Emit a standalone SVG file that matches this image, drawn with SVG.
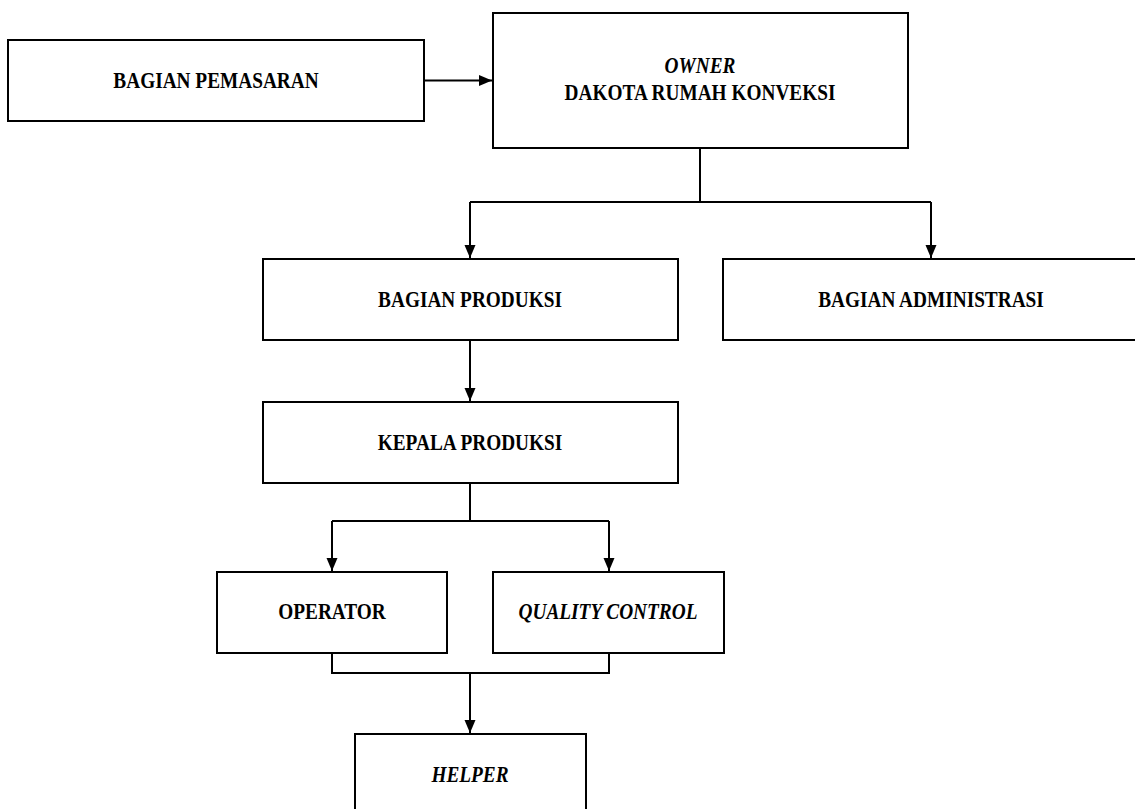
<svg xmlns="http://www.w3.org/2000/svg" width="1135" height="809" viewBox="0 0 1135 809">
  <style>
    .box { fill: #ffffff; stroke: #000000; stroke-width: 2; }
    .lbl { font-family: "Liberation Serif", "Times New Roman", serif; font-weight: bold; font-size: 19.3px; fill: #000000; text-anchor: middle; }
    .it { font-style: italic; }
    .wire { fill: none; stroke: #000000; stroke-width: 2; }
  </style>
  <defs>
    <marker id="arrow" markerUnits="userSpaceOnUse" markerWidth="14" markerHeight="12" refX="13" refY="5.5" orient="auto">
      <path d="M0,0 L13,5.5 L0,11 Z" fill="#000000"/>
    </marker>
  </defs>
  <rect width="1135" height="809" fill="#ffffff"/>

  <g id="connectors">
    <path class="wire" d="M424,80.5 H492" marker-end="url(#arrow)"/>
    <path class="wire" d="M700,148 V202 M470,202 H931"/>
    <path class="wire" d="M470,202 V258" marker-end="url(#arrow)"/>
    <path class="wire" d="M931,202 V258" marker-end="url(#arrow)"/>
    <path class="wire" d="M470,340 V401" marker-end="url(#arrow)"/>
    <path class="wire" d="M470,483 V521 M332,521 H609"/>
    <path class="wire" d="M332,521 V571" marker-end="url(#arrow)"/>
    <path class="wire" d="M609,521 V571" marker-end="url(#arrow)"/>
    <path class="wire" d="M332,653 V673 H609 V653"/>
    <path class="wire" d="M470,673 V733" marker-end="url(#arrow)"/>
  </g>

  <g id="bagian-pemasaran">
    <rect class="box" x="8" y="40" width="416" height="81"/>
    <text class="lbl" transform="translate(216,88) scale(1,1.17)">BAGIAN PEMASARAN</text>
  </g>

  <g id="owner">
    <rect class="box" x="493" y="13" width="415" height="135"/>
    <text class="lbl it" transform="translate(700,73) scale(1,1.17)">OWNER</text>
    <text class="lbl" transform="translate(700,100) scale(1,1.17)">DAKOTA RUMAH KONVEKSI</text>
  </g>

  <g id="bagian-produksi">
    <rect class="box" x="263" y="259" width="415" height="81"/>
    <text class="lbl" transform="translate(470,307) scale(1,1.17)">BAGIAN PRODUKSI</text>
  </g>

  <g id="bagian-administrasi">
    <rect class="box" x="723" y="259" width="420" height="81"/>
    <text class="lbl" transform="translate(931,307) scale(1,1.17)">BAGIAN ADMINISTRASI</text>
  </g>

  <g id="kepala-produksi">
    <rect class="box" x="263" y="402" width="415" height="81"/>
    <text class="lbl" transform="translate(470,450) scale(1,1.17)">KEPALA PRODUKSI</text>
  </g>

  <g id="operator">
    <rect class="box" x="217" y="572" width="230" height="81"/>
    <text class="lbl" transform="translate(332,619) scale(1,1.17)">OPERATOR</text>
  </g>

  <g id="quality-control">
    <rect class="box" x="493" y="572" width="231" height="81"/>
    <text class="lbl it" transform="translate(608,619) scale(1,1.17)">QUALITY CONTROL</text>
  </g>

  <g id="helper">
    <rect class="box" x="355" y="734" width="231" height="85"/>
    <text class="lbl it" transform="translate(470,782) scale(1,1.17)">HELPER</text>
  </g>
</svg>
